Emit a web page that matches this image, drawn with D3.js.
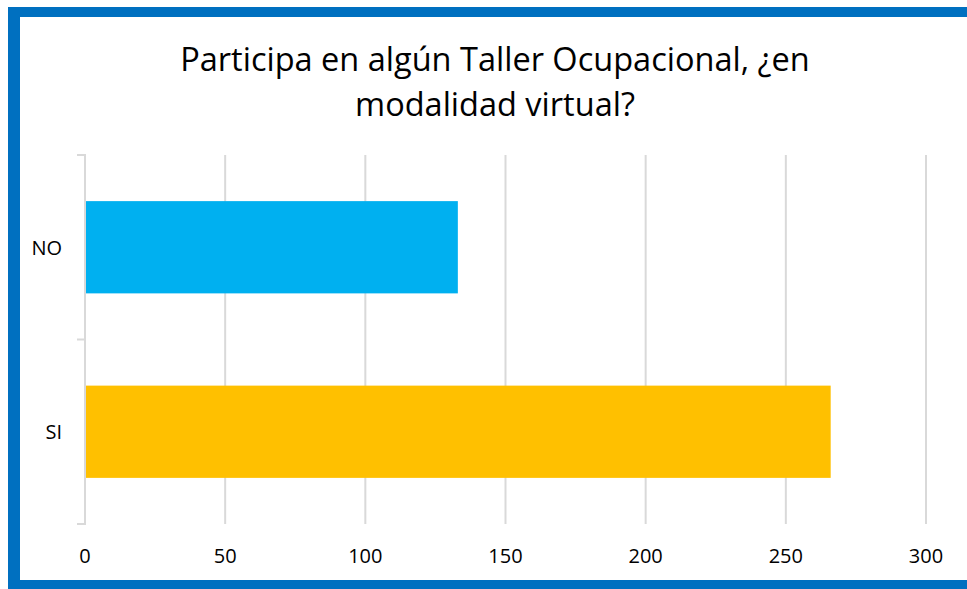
<!DOCTYPE html>
<html>
<head>
<meta charset="utf-8">
<script src="https://d3js.org/d3.v7.min.js"></script>
<style>
  body { margin: 0; background: #fff; }
  svg { display: block; font-family: "Open Sans", sans-serif; }
</style>
</head>
<body>
<script>
const categories = ['NO', 'SI']
const values = [133, 266]
const barColors = ['#00B0F0', '#FFC000']
const tickValues = [0, 50, 100, 150, 200, 250, 300]
const titleLines = ['Participa en algún Taller Ocupacional, ¿en', 'modalidad virtual?']

const width = 967, height = 589
const svg = d3.select('body').append('svg').attr('width', width).attr('height', height)

// frame (blue on left, top, bottom)
const blue = '#0070C0'
svg.append('rect').attr('x', 8).attr('y', 7).attr('width', width - 8).attr('height', 10).attr('fill', blue)
svg.append('rect').attr('x', 8).attr('y', 7).attr('width', 12).attr('height', height - 7).attr('fill', blue)
svg.append('rect').attr('x', 8).attr('y', 580).attr('width', width - 8).attr('height', 9).attr('fill', blue)

const x = d3.scaleLinear().domain([0, 300]).range([85, 926])
const y = d3.scaleBand().domain(categories).range([155, 524]).paddingInner(0.5).paddingOuter(0.25)

const grid = '#d9d9d9'
svg.append('g').selectAll('line').data(tickValues).join('line')
  .attr('x1', d => x(d)).attr('x2', d => x(d))
  .attr('y1', 155).attr('y2', 524)
  .attr('stroke', grid).attr('stroke-width', 2)

// category tick marks on the vertical axis
const edges = [155, 155 + y.step(), 524]
svg.append('g').selectAll('line').data(edges).join('line')
  .attr('x1', 77).attr('x2', 86).attr('y1', d => d).attr('y2', d => d)
  .attr('stroke', grid).attr('stroke-width', 2)

svg.append('g').selectAll('rect').data(values).join('rect')
  .attr('x', x(0) + 1)
  .attr('y', (d, i) => y(categories[i]))
  .attr('width', d => x(d) - x(0) - 1)
  .attr('height', y.bandwidth())
  .attr('fill', (d, i) => barColors[i])

svg.append('g').selectAll('text').data(categories).join('text')
  .attr('x', 62).attr('y', d => y(d) + y.bandwidth() / 2)
  .attr('text-anchor', 'end').attr('dominant-baseline', 'central')
  .attr('font-size', 20).attr('fill', '#000')
  .text(d => d)

svg.append('g').selectAll('text').data(tickValues).join('text')
  .attr('x', d => x(d)).attr('y', 563)
  .attr('text-anchor', 'middle')
  .attr('font-size', 20).attr('fill', '#000')
  .text(d => d)

const title = svg.append('g').selectAll('text').data(titleLines).join('text')
  .attr('x', 495).attr('y', (d, i) => 71 + i * 45)
  .attr('text-anchor', 'middle')
  .attr('font-size', 28).attr('fill', '#000')
  .text(d => d)

// fit the first line to the width seen in the picture
const w0 = title.node().getComputedTextLength()
const fs = 28 * 630 / w0
title.attr('font-size', fs)
</script>
</body>
</html>
